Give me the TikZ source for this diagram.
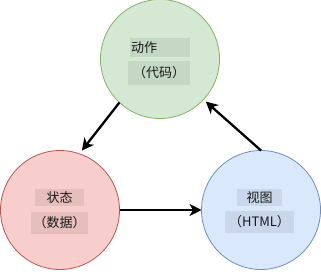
\documentclass[tikz,border=0pt]{standalone}
\usepackage{fontspec}
\newfontfamily\cjk{Noto Sans CJK SC}
\usetikzlibrary{arrows.meta}
\definecolor{gfill}{HTML}{D5E8D4}\definecolor{gline}{HTML}{82B366}
\definecolor{rfill}{HTML}{F8CECC}\definecolor{rline}{HTML}{B85450}
\definecolor{bfill}{HTML}{DAE8FC}\definecolor{bline}{HTML}{6C8EBF}
\tikzset{
  bubble/.style={circle, minimum size=119pt, inner sep=0pt, outer sep=0pt, line width=0.8pt},
  lbl/.style={rectangle, inner sep=0pt, fill=black, fill opacity=0.07, text opacity=1,
     text=black!90, font=\cjk\fontsize{13}{15}\selectfont},
  arr/.style={line width=2.3pt, -{Stealth[length=12pt,width=12pt,inset=3.5pt]}}
}
\begin{document}
\begin{tikzpicture}[x=1pt,y=-1pt]
\useasboundingbox (0,0) rectangle (321,271);
\node[bubble, fill=gfill, draw=gline] (g) at (160,59) {};
\node[bubble, fill=rfill, draw=rline] (r) at (60,210) {};
\node[bubble, fill=bfill, draw=bline] (b) at (261,210) {};
\node[lbl, minimum width=60pt, minimum height=19pt, text width=58pt, align=left] (g1) at (160,47.5) {动作};
\node[lbl, minimum width=62pt, minimum height=24pt] (g2) at (159,73) {（代码）};
\node[lbl, minimum width=49pt, minimum height=17pt] (r1) at (59.5,197.5) {状态};
\node[lbl, minimum width=57pt, minimum height=22pt] (r2) at (59.5,223) {（数据）};
\node[lbl, minimum width=45pt, minimum height=17pt] (b1) at (259.5,197.5) {视图};
\node[lbl, minimum width=69pt, minimum height=22pt] (b2) at (259.5,222) {（HTML）};
\draw[arr, shorten >=4pt] (g.227) -- (r.71);
\draw[arr, shorten >=3pt] (b.90) -- (g.317);
\draw[arr] (r.east) -- (b.west);
\end{tikzpicture}
\end{document}
